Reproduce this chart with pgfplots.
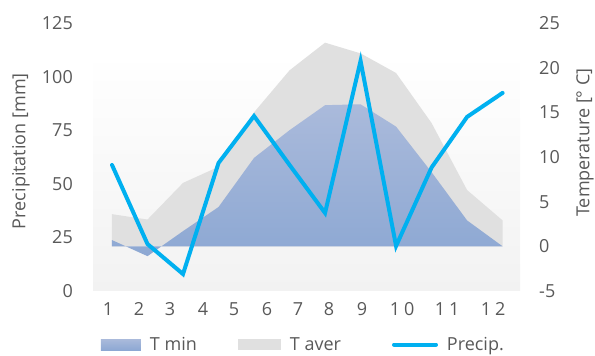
\documentclass[border=0pt]{standalone}
\usepackage{fontspec}
\setmainfont{Open Sans}
\usepackage{pgfplots}
\pgfplotsset{compat=1.18}
\definecolor{txt}{HTML}{595959}
\definecolor{prec}{HTML}{00B0F0}
\definecolor{taver}{HTML}{E0E0E0}
\definecolor{tmintop}{HTML}{AABADB}
\definecolor{tminbot}{HTML}{8DA8D3}
\definecolor{bgbot}{HTML}{F2F2F2}
\begin{document}
\begin{tikzpicture}
\useasboundingbox (0,0) rectangle (595pt,356pt);
\pgfplotsset{
  common/.style={scale only axis, width=427pt, height=268pt,
    at={(93pt,65pt)}, anchor=south west,
    xmin=0.465, xmax=12.49,
    axis line style={draw=none}, tick style={draw=none},
    font=\fontsize{18}{21}\selectfont,
    tick label style={text=txt, inner sep=0pt},
    /pgf/number format/assume math mode=true},
}
% temperature axis (right) with areas
\begin{axis}[common,
  ymin=-5, ymax=25, axis y line*=right,
  ytick={-5,0,5,10,15,20,25},
  yticklabel style={anchor=west, xshift=19pt},
  xtick={0.887,1.761,2.634,3.563,4.437,5.366,6.239,7.113,8.042,9.169,10.437,11.732},
  xticklabels={1,2,3,4,5,6,7,8,9,1\kern4pt0,1\kern4pt1,1\kern4pt2},
  xticklabel style={anchor=north, yshift=-11pt},
  every axis y label/.style={at={(rel axis cs:1.152,0.554)}, rotate=90, anchor=center, text=txt},
  ylabel={Temperature [° C]},
]
\fill[top color=white, bottom color=bgbot, draw=none] (axis cs:0.465,-5) rectangle (axis cs:12.49,21.64);
\addplot[fill=taver, draw=none] coordinates {
 (1,0) (1,3.6) (2,3.0) (3,7.1) (4,8.9) (5,15.0) (6,19.7) (7,22.8) (8,21.6) (9,19.4) (10,13.8) (11,6.3) (12,2.9) (12,0)};
\addplot[draw=none, top color=tmintop, bottom color=tminbot] coordinates {
 (1,0) (1,0.7) (2,-1.1) (3,1.7) (4,4.4) (5,9.9) (6,13.0) (7,15.8) (8,15.9) (9,13.4) (10,8.3) (11,2.9) (12,0)};
\end{axis}
% precipitation axis (left) with line
\begin{axis}[common,
  ymin=0, ymax=125, axis y line*=left,
  ytick={0,25,50,75,100,125},
  yticklabel style={anchor=east, xshift=-20pt},
  xtick=\empty,
  every axis y label/.style={at={(rel axis cs:-0.169,0.522)}, rotate=90, anchor=center, text=txt},
  ylabel={Precipitation [mm]},
  legend columns=3,
  legend style={at={(rel axis cs:0.0187,-0.200)}, anchor=west, draw=none, fill=none,
    inner sep=0pt, outer sep=0pt, font=\fontsize{18}{21}\selectfont, text=txt,
    nodes={inner sep=0pt, anchor=west},
    /tikz/every odd column/.append style={column sep=9pt}},
]
\addlegendimage{legend image code/.code={\fill[draw=none, top color=tmintop, bottom color=tminbot] (0pt,-5.5pt) rectangle (40pt,5.5pt);}}
\addlegendentry{\makebox[88pt][l]{T min}}
\addlegendimage{legend image code/.code={\fill[draw=none, taver] (0pt,-5.5pt) rectangle (43pt,5.5pt);}}
\addlegendentry{\makebox[102pt][l]{T aver}}
\addplot[prec, line width=4pt, line cap=round, line join=miter,
  legend image code/.code={\draw[prec, line width=4pt, line cap=round] (1pt,0pt) -- (43pt,0pt);}] coordinates {
 (1,58.8) (2,21.9) (3,7.9) (4,59.7) (5,81.6) (6,58.8) (7,36.4) (8,107.3) (9,21.0) (10,57.6) (11,81.2) (12,92.4)};
\addlegendentry{Precip.}
\end{axis}
\end{tikzpicture}
\end{document}
